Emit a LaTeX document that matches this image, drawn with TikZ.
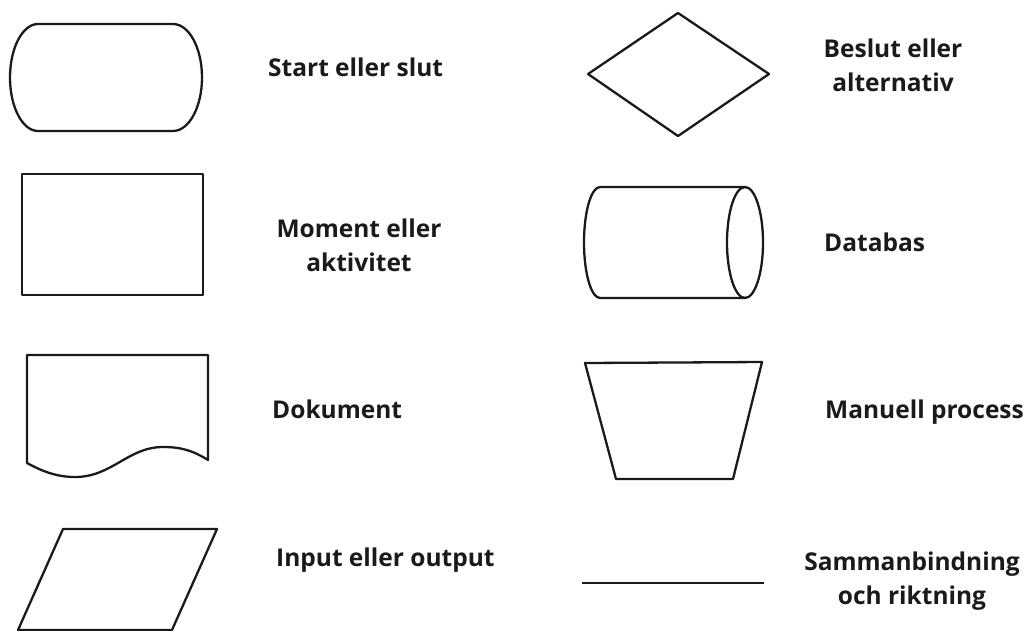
\documentclass[tikz,border=0pt]{standalone}
\usepackage{fontspec}
\setmainfont{Open Sans}
\definecolor{ink}{HTML}{1A1A1A}
\tikzset{
  x=1pt, y=1pt,
  shapeline/.style={draw=ink, line width=2.3pt, line join=round},
  lbl/.style={text=ink, inner sep=0pt, font=\fontsize{24.5}{34}\selectfont\bfseries},
  lblc/.style={lbl, align=center, anchor=center},
  lblw/.style={lbl, anchor=base west}
}
\begin{document}
\begin{tikzpicture}
\useasboundingbox (0,0) rectangle (1027,-630);
% Start/slut (terminator)
\draw[shapeline] (38,-24) -- (173,-24)
  arc[start angle=90, end angle=-90, x radius=29, y radius=53.5]
  -- (38,-131)
  arc[start angle=270, end angle=90, x radius=28, y radius=53.5] -- cycle;
\node[lblw] (t1) at (268,-76) {Start eller slut};
% Moment (rectangle)
\draw[shapeline] (22,-174) rectangle (203,-295);
\node[lblc] (t2) at (359,-245) {Moment eller\\aktivitet};
% Dokument
\draw[shapeline] (27,-463) -- (27,-355) -- (208,-355) -- (208,-460)
  .. controls (192,-450) and (180,-447) .. (163,-447)
  .. controls (128,-447) and (112,-477) .. (75,-477)
  .. controls (55,-477) and (40,-470) .. cycle;
\node[lblw] (t3) at (272,-418) {Dokument};
% Input/output (parallelogram)
\draw[shapeline] (63,-529) -- (217,-529) -- (172,-630) -- (18,-630) -- cycle;
\node[lblw] (t4) at (276,-566) {Input eller output};
% Beslut (diamond)
\draw[shapeline] (678,-13) -- (769,-74) -- (678,-136) -- (588,-74) -- cycle;
\node[lblc] (t5) at (893,-65) {Beslut eller\\alternativ};
% Databas (cylinder)
\draw[shapeline] (745,-187) -- (600,-187)
  arc[start angle=90, end angle=270, x radius=16, y radius=55.5]
  -- (745,-298);
\draw[shapeline] (745,-242.5) ellipse[x radius=18, y radius=55.5];
\node[lblw] (t6) at (824,-251) {Databas};
% Manuell process (trapezoid)
\draw[shapeline] (585,-363) -- (762,-362) -- (733,-479) -- (616,-479) -- cycle;
\node[lblw] (t7) at (825,-418) {Manuell process};
% Sammanbindning (line)
\coordinate (la) at (582,-583);
\coordinate (lb) at (764,-583);
\draw[shapeline] (la) -- (lb);
\node[lblc] (t8) at (912,-581) {Sammanbindning\\och riktning};
\end{tikzpicture}
\end{document}
